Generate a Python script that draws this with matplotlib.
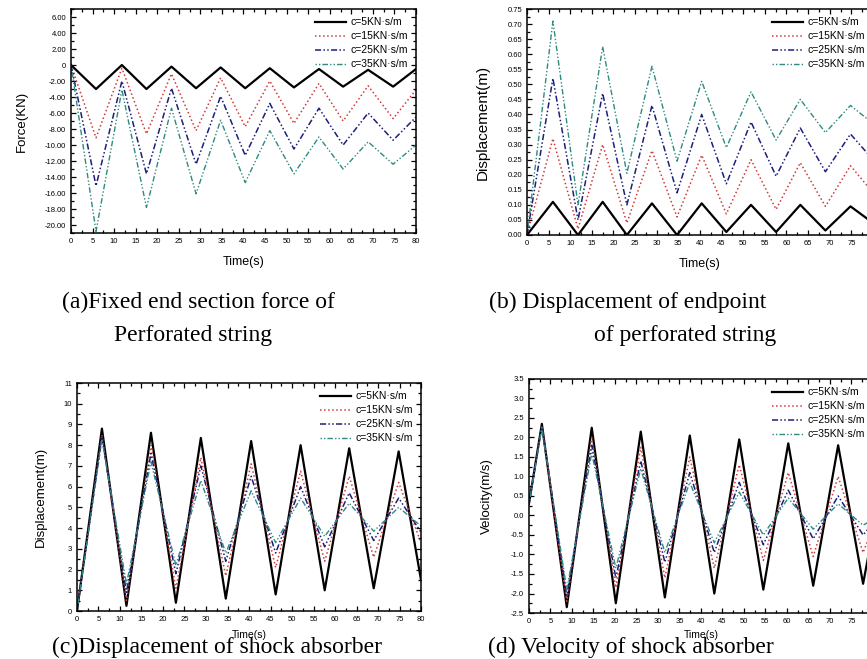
import matplotlib
matplotlib.use("Agg")
import matplotlib.pyplot as plt
from matplotlib.ticker import MultipleLocator

plt.rcParams['font.family'] = ['Liberation Sans', 'DejaVu Sans']

# legend labels
labels = ["c=5KN·s/m", "c=15KN·s/m", "c=25KN·s/m", "c=35KN·s/m"]

# (a) fixed end section force, peaks/troughs
ta = [0, 5.8, 11.8, 17.5, 23.3, 29, 34.7, 40.4, 46.1, 51.7, 57.5, 63.1, 68.9, 74.7, 80]
a_c5 = [0, -3.0, 0, -3.0, -0.2, -2.9, -0.3, -2.9, -0.4, -2.8, -0.5, -2.7, -0.6, -2.7, -0.5]
a_c15 = [0, -9.1, -0.4, -8.6, -1.1, -8.2, -1.6, -7.7, -2.0, -7.3, -2.3, -7.0, -2.6, -6.7, -3.1]
a_c25 = [0, -15.1, -2.0, -13.6, -2.9, -12.4, -3.9, -11.3, -4.8, -10.5, -5.4, -10.0, -6.0, -9.4, -6.5]
a_c35 = [0, -20.8, -3.1, -17.8, -5.4, -16.1, -6.9, -14.7, -8.2, -13.6, -9.0, -13.0, -9.6, -12.4, -10.0]
a_yticks = [6, 4, 2, 0, -2, -4, -6, -8, -10, -12, -14, -16, -18, -20]
a_ylabels = ["6.00", "4.00", "2.00", "0", "-2.00", "-4.00", "-6.00", "-8.00", "-10.00",
             "-12.00", "-14.00", "-16.00", "-18.00", "-20.00"]

# (b) displacement of endpoint
tb = [0, 6, 11.8, 17.5, 23.1, 28.9, 34.7, 40.4, 46.1, 51.8, 57.6, 63.2, 69, 74.8, 80]
b_c5 = [0, 0.11, 0.0, 0.11, 0.0, 0.105, 0.0, 0.105, 0.01, 0.10, 0.01, 0.10, 0.015, 0.095, 0.04]
b_c15 = [0, 0.32, 0.02, 0.30, 0.04, 0.28, 0.06, 0.265, 0.07, 0.25, 0.085, 0.24, 0.095, 0.23, 0.14]
b_c25 = [0, 0.52, 0.05, 0.47, 0.10, 0.43, 0.14, 0.40, 0.17, 0.375, 0.195, 0.355, 0.21, 0.335, 0.25]
b_c35 = [0, 0.71, 0.10, 0.625, 0.205, 0.56, 0.245, 0.51, 0.29, 0.475, 0.315, 0.45, 0.34, 0.43, 0.37]

# (c) displacement of shock absorber
tc = [0, 5.8, 11.5, 17.2, 23, 28.8, 34.6, 40.5, 46.2, 52, 57.6, 63.3, 69, 74.8, 80]
c_c5 = [0, 8.8, 0.25, 8.6, 0.4, 8.35, 0.6, 8.2, 0.8, 8.0, 1.0, 7.85, 1.1, 7.7, 1.5]
c_c15 = [0, 8.5, 0.5, 8.0, 1.1, 7.4, 1.7, 7.1, 2.1, 6.75, 2.4, 6.5, 2.6, 6.2, 3.3]
c_c25 = [0, 8.4, 0.9, 7.6, 1.8, 7.0, 2.4, 6.5, 2.8, 6.0, 3.1, 5.7, 3.4, 5.45, 3.8]
c_c35 = [0, 8.3, 1.3, 7.2, 2.2, 6.3, 2.8, 5.8, 3.3, 5.45, 3.6, 5.2, 3.85, 5.0, 4.1]

# (d) velocity of shock absorber
td = [0, 3, 8.8, 14.6, 20.2, 26, 31.6, 37.4, 43.1, 48.9, 54.5, 60.3, 66.1, 71.9, 77.7, 80]
d_c5 = [0.3, 2.35, -2.35, 2.25, -2.25, 2.15, -2.1, 2.05, -2.0, 1.95, -1.9, 1.85, -1.8, 1.8, -1.75, -0.4]
d_c15 = [0.3, 2.3, -2.2, 2.0, -1.85, 1.75, -1.6, 1.5, -1.35, 1.3, -1.15, 1.1, -1.05, 1.0, -0.95, -0.3]
d_c25 = [0.3, 2.3, -2.05, 1.8, -1.6, 1.4, -1.2, 1.1, -0.95, 0.85, -0.75, 0.65, -0.6, 0.5, -0.5, -0.2]
d_c35 = [0.3, 2.25, -1.9, 1.6, -1.35, 1.2, -0.95, 0.85, -0.7, 0.6, -0.5, 0.45, -0.35, 0.3, -0.25, -0.1]

colors = ["black", "#d03a3a", "#1c1f78", "#2f8a80"]
styles = ["-", ":", (0, (4, 1.5, 1, 1.5, 1, 1.5)), (0, (1, 1.5, 1, 1.5, 4, 1.5))]
widths = [1.6, 1.1, 1.1, 1.0]


def panel(ax, t, series, ylabel, ylim, ystep, yfmt, ylab_x, ylab_size, xlab_size, xlab_pad):
    for s, lab, c, ls, lw in zip(series, labels, colors, styles, widths):
        ax.plot(t, s, color=c, ls=ls, lw=lw, label=lab)
    ax.set_xlim(0, 80)
    ax.set_ylim(*ylim)
    ax.xaxis.set_major_locator(MultipleLocator(5))
    ax.xaxis.set_minor_locator(MultipleLocator(2.5))
    ax.yaxis.set_major_locator(MultipleLocator(ystep))
    ax.yaxis.set_minor_locator(MultipleLocator(ystep / 2))
    if yfmt:
        ax.yaxis.set_major_formatter(plt.FormatStrFormatter(yfmt))
    ax.tick_params(which="both", direction="in", top=True, right=True, labelsize=5.5, width=0.9)
    ax.tick_params(which="major", length=3.5)
    ax.tick_params(which="minor", length=2)
    for sp in ax.spines.values():
        sp.set_linewidth(1.1)
    ax.set_xlabel("Time(s)", fontsize=xlab_size, labelpad=xlab_pad)
    ax.set_ylabel(ylabel, fontsize=ylab_size)
    ax.yaxis.set_label_coords(ylab_x, 0.5)
    ax.legend(loc="upper right", frameon=False, fontsize=7.5, handlelength=3.0,
              labelspacing=0.38, borderaxespad=0.4, handletextpad=0.4)


fig = plt.figure(figsize=(8.67, 6.59), dpi=100)

ax1 = fig.add_axes([0.0819, 0.6464, 0.3979, 0.3399])
panel(ax1, ta, [a_c5, a_c15, a_c25, a_c35], "Force(KN)", (-21, 7), 2, None,
      -0.125, 9.5, 9, 8)
ax1.set_yticks(a_yticks)
ax1.set_yticklabels(a_ylabels)

ax2 = fig.add_axes([0.6078, 0.6434, 0.3991, 0.3429])
panel(ax2, tb, [b_c5, b_c15, b_c25, b_c35], "Displacement(m)", (0, 0.75), 0.05, "%.2f",
      -0.107, 11, 9, 8)

ax3 = fig.add_axes([0.0888, 0.0728, 0.3968, 0.346])
panel(ax3, tc, [c_c5, c_c15, c_c25, c_c35], "Displacement(m)", (0, 11), 1, "%d",
      -0.087, 9.5, 7.5, 5)

ax4 = fig.add_axes([0.6101, 0.0698, 0.3968, 0.3551])
panel(ax4, td, [d_c5, d_c15, d_c25, d_c35], "Velocity(m/s)", (-2.5, 3.5), 0.5, "%.1f",
      -0.105, 9.5, 7.5, 4)

cap = dict(fontsize=17, family="Liberation Serif", va="center")
fig.text(62 / 867, 1 - 302 / 659, "(a)Fixed end section force of", **cap)
fig.text(114 / 867, 1 - 336 / 659, "Perforated string", **cap)
fig.text(489 / 867, 1 - 302 / 659, "(b) Displacement of endpoint", **cap)
fig.text(594 / 867, 1 - 336 / 659, "of perforated string", **cap)
fig.text(52 / 867, 1 - 647 / 659, "(c)Displacement of shock absorber", **cap)
fig.text(488 / 867, 1 - 647 / 659, "(d) Velocity of shock absorber", **cap)

fig.savefig("out.png", dpi=100)
